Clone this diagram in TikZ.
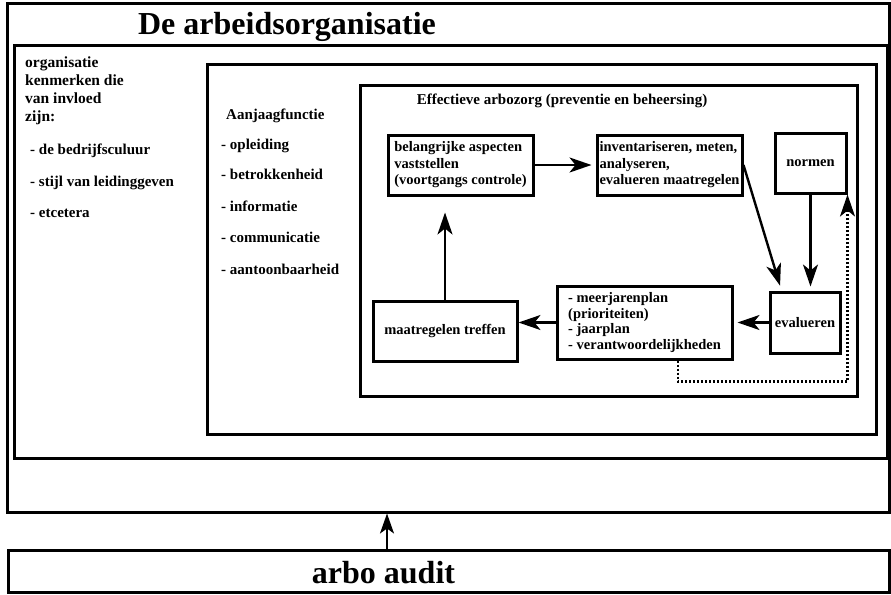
\documentclass[tikz,border=0pt]{standalone}
\usepackage{fontspec}
\setmainfont{Liberation Serif}
\usetikzlibrary{arrows.meta}

\tikzset{
  kader/.style={draw, line width=3pt, inner sep=0pt},
  blok/.style={draw, line width=3pt, inner sep=1pt, align=left, font=\fontsize{14.5}{16.5}\selectfont\bfseries},
  tekst/.style={inner sep=0pt, align=left, font=\fontsize{15}{17.7}\selectfont\bfseries},
  pijl/.style={line width=2.4pt, -{Stealth[length=22pt,width=15pt,inset=6pt]}},
  stippel/.style={pijl, dash pattern=on 2pt off 2pt},
}

\begin{document}
\begin{tikzpicture}[x=1pt,y=-1pt]
\useasboundingbox (0,0) rectangle (891,594);
\node[kader, minimum width=882.5pt, minimum height=508pt] (werk) at (448.25,258) {};
\node[kader, minimum width=873pt, minimum height=412pt] (invloed) at (450.5,252) {};
\node[kader, minimum width=669pt, minimum height=369pt] (aanjaag) at (541.5,249.5) {};
\node[kader, minimum width=497pt, minimum height=311pt] (arbozorg) at (608.5,240.5) {};
\node[kader, minimum width=881pt, minimum height=42pt] (audit) at (448.5,571) {};

\node[anchor=base, font=\fontsize{32}{36}\selectfont\bfseries] (titel) at (287,35) {De arbeidsorganisatie};
\node[anchor=base, font=\fontsize{32}{36}\selectfont\bfseries] (audittekst) at (383.5,583) {arbo audit};

\node[tekst, anchor=north west, font=\fontsize{15.5}{17.7}\selectfont\bfseries] (kenmerken) at (25,57) {organisatie\\kenmerken die\\van invloed\\zijn:};
\node[tekst, anchor=base west] (cultuur) at (30,154) {- de bedrijfsculuur};
\node[tekst, anchor=base west] (stijl) at (30,186) {- stijl van leidinggeven};
\node[tekst, anchor=base west] (etcetera) at (30,217) {- etcetera};

\node[tekst, anchor=base west] (aanjaagkop) at (226,119) {Aanjaagfunctie};
\node[tekst, anchor=base west] (opleiding) at (221,149) {- opleiding};
\node[tekst, anchor=base west] (betrokken) at (221,179) {- betrokkenheid};
\node[tekst, anchor=base west] (informatie) at (221,211) {- informatie};
\node[tekst, anchor=base west] (communicatie) at (221,242) {- communicatie};
\node[tekst, anchor=base west] (aantoonbaar) at (221,274) {- aantoonbaarheid};

\node[tekst, anchor=base] (arbozorgkop) at (562,104) {Effectieve arbozorg (preventie en beheersing)};

\node[blok, minimum width=145pt, minimum height=60pt] (aspecten) at (460.5,165) {belangrijke aspecten\\vaststellen\\(voortgangs controle)};
\node[blok, minimum width=145pt, minimum height=60pt] (meten) at (669.5,165) {inventariseren, meten,\\analyseren,\\evalueren maatregelen};
\node[blok, minimum width=71pt, minimum height=60pt] (normen) at (810.5,163) {normen};
\node[blok, minimum width=70pt, minimum height=61pt] (evalueren) at (805,322.5) {evalueren};
\node[blok, minimum width=175pt, minimum height=73pt, font=\fontsize{14.5}{15.5}\selectfont\bfseries] (plan) at (644.5,322.5) {- meerjarenplan\\(prioriteiten)\\- jaarplan\\- verantwoordelijkheden};
\node[blok, minimum width=144pt, minimum height=60pt] (treffen) at (445,331) {maatregelen treffen};

\draw[pijl, shorten >=4pt] (aspecten.east) -- (meten.west);
\draw[pijl, shorten >=5pt] (meten.east) -- ([xshift=13pt]evalueren.north west);
\draw[pijl, shorten >=4pt] (normen.south) -- (normen.south |- evalueren.north);
\draw[pijl, shorten >=4pt] (evalueren.west) -- (plan.east);
\draw[pijl] (plan.west) -- (plan.west -| treffen.east);
\draw[pijl, shorten >=16pt] (treffen.north) -- (treffen.north |- aspecten.south);
\draw[stippel] ([xshift=33.5pt]plan.south) -- ++(0,21) -| (normen.south east);

\coordinate (voet) at (387,550);
\draw[line width=1.8pt, -{Stealth[length=20pt,width=14pt,inset=5pt]}] (voet) -- (voet |- werk.south);
\end{tikzpicture}
\end{document}
